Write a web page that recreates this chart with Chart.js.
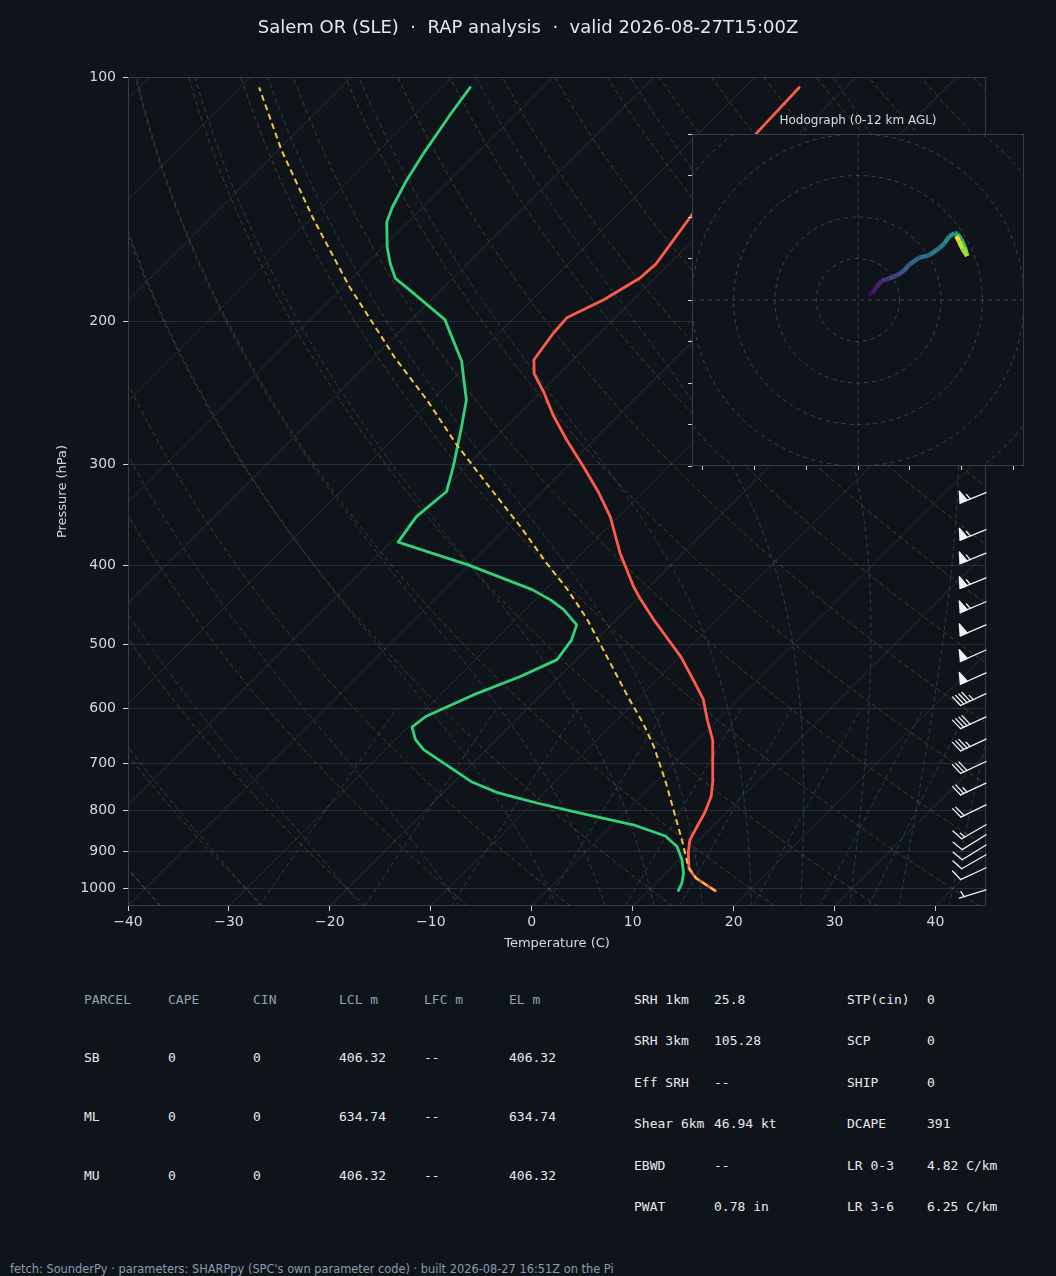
<!DOCTYPE html>
<html>
<head>
<meta charset="utf-8">
<script src="https://cdn.jsdelivr.net/npm/chart.js@4.4.1/dist/chart.umd.min.js"></script>
<style>
  html, body { margin: 0; padding: 0; background: #0f141a; }
  body { width: 1056px; height: 1276px; position: relative; overflow: hidden;
         font-family: "DejaVu Sans", sans-serif; color: #d6dbe2; }
  #title { position: absolute; top: 16px; left: 0; width: 1056px; text-align: center; z-index: 5;
           font-size: 18px; line-height: 22px; white-space: pre; color: #e4e8ee; }
  #skew { position: absolute; left: 0; top: 0; }
  #hodo { position: absolute; left: 680px; top: 100px; z-index: 2; }
  #hodoTitle { position: absolute; left: 680px; top: 112px; width: 356px; text-align: center; z-index: 3;
               font-size: 12px; line-height: 16px; color: #d6dbe2; }
  .cell { position: absolute; font-family: "DejaVu Sans Mono", monospace; font-size: 13px;
          line-height: 16px; white-space: pre; color: #e6e9ee; }
  .head { color: #8fa2b8; }
  #foot { position: absolute; left: 10px; top: 1262px; font-size: 11.4px; line-height: 14px;
          white-space: pre; color: #8b9bb0; }
</style>
</head>
<body>
<canvas id="skew" width="1056" height="960"></canvas>
<div id="title">Salem OR (SLE)  ·  RAP analysis  ·  valid 2026-08-27T15:00Z</div>
<canvas id="hodo" width="356" height="380"></canvas>
<div id="hodoTitle">Hodograph (0-12 km AGL)</div>
<div id="table"></div>
<div id="foot">fetch: SounderPy · parameters: SHARPpy (SPC's own parameter code) · built 2026-08-27 16:51Z on the Pi</div>

<script>
// ---- sounding ----
const tempP = [1006, 970, 945, 902, 870, 838, 806, 769, 733, 681, 656, 620, 584, 556, 518, 484, 466, 440, 424,
  386, 348, 324, 302, 280, 261, 245, 232, 223, 207, 198, 188, 177, 170, 148, 117, 103];
const tempC = [16.7, 13.5, 11.9, 10.2, 9.1, 8.5, 7.9, 6.9, 5.4, 2.8, 1.5, -1.0, -3.5, -6.1, -9.9, -14.0, -16.3, -19.6, -21.6,
  -26.2, -30.8, -34.5, -38.4, -42.7, -46.5, -49.6, -52.5, -53.9, -54.6, -54.8, -52.9, -51.5, -51.3, -52.6, -54.3, -54.6];

const dewP = [1005, 984, 957, 921, 887, 861, 834, 807, 784, 762, 738, 674, 655, 632, 614, 577, 548, 522, 494, 473,
  453, 441, 428, 399, 374, 348, 324, 302, 285, 270, 250, 234, 224, 209, 199, 183, 177, 170, 162, 151, 145, 134, 124, 111, 103];
const dewC = [13.0, 12.6, 11.8, 10.3, 8.5, 6.3, 2.0, -4.4, -9.7, -14.5, -18.3, -26.2, -28.0, -29.6, -29.3, -26.7, -23.9, -21.9, -22.4, -23.4,
  -26.2, -28.4, -31.3, -40.1, -49.3, -50.0, -49.5, -51.3, -52.9, -54.4, -56.6, -59.2, -60.9, -64.3, -66.7, -73.1, -75.7, -77.6, -79.6, -82.1, -83.0, -84.3, -85.3, -86.5, -87.2];

const parcelP = [1006, 970, 939, 870, 799, 734, 668, 625, 580, 537, 489, 464, 428, 397, 358, 320, 283, 250, 222, 181, 149, 123, 103];
const parcelC = [16.7, 13.5, 11.6, 8.3, 4.5, 0.7, -3.7, -7.1, -11.2, -15.3, -20.3, -23.1, -27.8, -32.5, -38.7, -45.7, -53.3, -60.5, -67.8, -79.5, -89.9, -99.7, -108.1];

// wind barbs (kt, direction from)
const barbP = [325, 361, 386, 414, 443, 473, 508, 542, 575, 614, 654, 697, 741, 788, 834, 858, 883, 908, 942, 1003];
const barbSpd = [55, 55, 55, 55, 55, 50, 50, 50, 45, 40, 35, 30, 25, 20, 15, 10, 10, 10, 10, 5];
const barbDir = [248, 248, 248, 248, 247, 247, 246, 246, 245, 245, 245, 245, 245, 244, 240, 238, 238, 240, 245, 253];

// hodograph (m/s) and height (km AGL)
const hodoU = [2.4, 3.5, 4.4, 5.7, 7.6, 9.5, 11.0, 12.4, 14.8, 17.2, 19.6, 20.8, 22.0, 23.3, 24.0, 24.9, 25.7, 26.3, 25.2, 24.3, 23.7];
const hodoV = [1.2, 1.7, 3.1, 4.6, 5.2, 6.0, 7.0, 8.6, 10.2, 10.8, 12.5, 13.6, 15.3, 16.1, 15.9, 14.5, 12.8, 10.6, 12.3, 14.2, 15.4];
const hodoZ = [0, 0.5, 1, 1.5, 2, 2.5, 3, 3.5, 4, 4.5, 5, 5.5, 6, 6.5, 7, 8, 9, 10, 10.7, 11.4, 12];

// axes and background line sets
const xTicks = [-40, -30, -20, -10, 0, 10, 20, 30, 40];
const yTicks = [100, 200, 300, 400, 500, 600, 700, 800, 900, 1000];
const isoT = [-130, -120, -110, -100, -90, -80, -70, -60, -50, -40, -30, -20, -10, 0, 10, 20, 30, 40];
const dryT0 = [-40, -30, -20, -10, 0, 10, 20, 30, 40, 50, 60, 70, 80, 90, 100, 110, 120, 130, 140, 150, 160, 170, 180, 190, 200];
const moistT0 = [-40, -30, -20, -10, 0, 5, 10, 15, 20, 25, 30, 35, 40, 45, 50, 55, 60];
const mixW = [0.4, 1, 2, 4, 7, 10, 16, 24, 32];
const mixP = [1050, 1000, 950, 900, 850, 800, 750, 700, 650, 600];
const hodoXTicks = [-37.5, -25, -12.5, 0, 12.5, 25, 37.5];
const hodoYTicks = [-40, -30, -20, -10, 0, 10, 20, 30, 40];
const hodoRings = [10, 20, 30, 40, 50];

// table
const parcelHead = ["PARCEL", "CAPE", "CIN", "LCL m", "LFC m", "EL m"];
const parcelRows = [
  ["SB", "0", "0", "406.32", "--", "406.32"],
  ["ML", "0", "0", "634.74", "--", "634.74"],
  ["MU", "0", "0", "406.32", "--", "406.32"]
];
const paramsA = [["SRH 1km", "25.8"], ["SRH 3km", "105.28"], ["Eff SRH", "--"], ["Shear 6km", "46.94 kt"], ["EBWD", "--"], ["PWAT", "0.78 in"]];
const paramsB = [["STP(cin)", "0"], ["SCP", "0"], ["SHIP", "0"], ["DCAPE", "391"], ["LR 0-3", "4.82 C/km"], ["LR 3-6", "6.25 C/km"]];

// ---- skew geometry ----
const P_TOP = 100, P_BOT = 1050, T_MIN = -40, T_MAX = 45;
const PLOT_W = 858, PLOT_H = 829;
const SKEW = (PLOT_H / Math.log10(P_BOT / P_TOP)) / (PLOT_W / (T_MAX - T_MIN));
const skewX = (t, p) => t + SKEW * Math.log10(P_BOT / p);

const BG = "#0f141a";
const SPINE = "#343e4b";
const TXT = "#d3d9e0";

Chart.defaults.font.family = "DejaVu Sans";
Chart.defaults.color = TXT;

// pressure samples for curved reference lines
const curveP = [];
for (let p = 1050; p >= 100; p -= 10) curveP.push(p);

function moistLapse(T, p) {
  const tc = T - 273.15;
  const es = 6.112 * Math.exp(17.67 * tc / (tc + 243.5));
  const rs = 0.622 * es / (p - es);
  const num = 287.04 * T + 2.501e6 * rs;
  const den = 1005.7 + 2.501e6 * 2.501e6 * rs * 0.622 / (287.04 * T * T);
  return num / den / p;
}

function moistCurve(t0) {
  const out = {};
  let T = t0 + 273.15, p = 1000;
  curveP.filter(q => q <= 1000).forEach(q => {
    while (p > q) {
      const h = -Math.min(2, p - q);
      const k1 = moistLapse(T, p);
      const k2 = moistLapse(T + h * k1, p + h);
      T += h * (k1 + k2) / 2; p += h;
    }
    out[q] = T - 273.15;
  });
  T = t0 + 273.15; p = 1000;
  curveP.filter(q => q > 1000).reverse().forEach(q => {
    while (p < q) {
      const h = Math.min(2, q - p);
      const k1 = moistLapse(T, p);
      const k2 = moistLapse(T + h * k1, p + h);
      T += h * (k1 + k2) / 2; p += h;
    }
    out[q] = T - 273.15;
  });
  return curveP.map(q => ({ x: skewX(out[q], q), y: q }));
}

function mixCurve(w) {
  return mixP.map(p => {
    const e = (w / 1000) * p / (0.622 + w / 1000);
    const l = Math.log(e / 6.112);
    const td = 243.5 * l / (17.67 - l);
    return { x: skewX(td, p), y: p };
  });
}

function line(points, color, width, dash, order) {
  return {
    data: points, showLine: true, borderColor: color, borderWidth: width,
    borderDash: dash || [], pointRadius: 0, pointHoverRadius: 0, fill: false,
    tension: 0, order: order, clip: 0, borderJoinStyle: "round", borderCapStyle: "round"
  };
}

const datasets = [];
isoT.forEach(t => datasets.push(line([{ x: skewX(t, P_BOT), y: P_BOT }, { x: skewX(t, P_TOP), y: P_TOP }],
  "rgba(120,135,155,0.22)", 1, null, 20)));
dryT0.forEach(t0 => datasets.push(line(curveP.map(p => ({
  x: skewX((t0 + 273.15) * Math.pow(p / 1000, 0.2857) - 273.15, p), y: p })),
  "rgba(175,128,62,0.36)", 1, [4, 4], 19)));
moistT0.forEach(t0 => datasets.push(line(moistCurve(t0), "rgba(70,120,140,0.42)", 1, [4, 4], 18)));
mixW.forEach(w => datasets.push(line(mixCurve(w), "rgba(70,120,140,0.42)", 1, [4, 4], 17)));

datasets.push(line(tempP.map((p, i) => ({ x: skewX(tempC[i], p), y: p })), "#ff5b4b", 2.8, null, 3));
datasets.push(line(dewP.map((p, i) => ({ x: skewX(dewC[i], p), y: p })), "#33d17a", 2.8, null, 2));
const parcelSet = line(parcelP.map((p, i) => ({ x: skewX(parcelC[i], p), y: p })), "#f5c542", 2, [6, 4], 1);
parcelSet.borderCapStyle = "butt";
datasets.push(parcelSet);

// wind barb drawing
function drawBarb(ctx, x0, y0, spd, dir) {
  const L = 28, h = 11.2, w = 7.5, gap = 3.5;
  const a = dir * Math.PI / 180;
  const sx = Math.sin(a), sy = -Math.cos(a);
  const nx = -sy, ny = sx;
  const P = d => [x0 + sx * d, y0 + sy * d];
  ctx.beginPath();
  ctx.moveTo(x0, y0);
  ctx.lineTo(...P(L));
  ctx.stroke();
  let rest = Math.round(spd / 5) * 5;
  let d = L;
  while (rest >= 50) {
    const a1 = P(d), a2 = P(d - w / 2), a3 = P(d - w);
    ctx.beginPath();
    ctx.moveTo(a1[0], a1[1]);
    ctx.lineTo(a2[0] + nx * h, a2[1] + ny * h);
    ctx.lineTo(a3[0], a3[1]);
    ctx.closePath();
    ctx.fill();
    ctx.stroke();
    d -= w + gap;
    rest -= 50;
  }
  while (rest >= 10) {
    const b1 = P(d), b2 = P(d + w / 2);
    ctx.beginPath();
    ctx.moveTo(b1[0], b1[1]);
    ctx.lineTo(b2[0] + nx * h, b2[1] + ny * h);
    ctx.stroke();
    d -= gap;
    rest -= 10;
  }
  if (rest >= 5) {
    if (d === L) d -= 1.5 * gap;
    const c1 = P(d), c2 = P(d + w / 4);
    ctx.beginPath();
    ctx.moveTo(c1[0], c1[1]);
    ctx.lineTo(c2[0] + nx * h / 2, c2[1] + ny * h / 2);
    ctx.stroke();
  }
}

const skewPlugin = {
  id: "skewExtras",
  beforeDraw(chart) {
    const { ctx } = chart;
    ctx.save();
    ctx.fillStyle = BG;
    ctx.fillRect(0, 0, chart.width, chart.height);
    ctx.restore();
  },
  afterDatasetsDraw(chart) {
    const { ctx, chartArea, scales } = chart;
    ctx.save();
    ctx.strokeStyle = SPINE;
    ctx.lineWidth = 1;
    ctx.strokeRect(chartArea.left + 0.5, chartArea.top + 0.5, chartArea.right - chartArea.left - 1, chartArea.bottom - chartArea.top - 1);
    ctx.strokeStyle = "#eef1f5";
    ctx.fillStyle = "#eef1f5";
    ctx.lineWidth = 1.3;
    ctx.lineCap = "round";
    ctx.lineJoin = "round";
    barbP.forEach((p, i) => {
      drawBarb(ctx, chartArea.right, scales.y.getPixelForValue(p), barbSpd[i], barbDir[i]);
    });
    ctx.restore();
  }
};

new Chart(document.getElementById("skew"), {
  type: "scatter",
  data: { datasets: datasets },
  options: {
    responsive: false,
    animation: false,
    events: [],
    layout: { padding: { top: 77, right: 70, left: 0, bottom: 0 } },
    plugins: { legend: { display: false }, tooltip: { enabled: false } },
    scales: {
      x: {
        type: "linear", min: T_MIN, max: T_MAX,
        afterBuildTicks: s => { s.ticks = xTicks.map(v => ({ value: v })); },
        afterFit: s => { s.height = 54; },
        ticks: { font: { size: 14 }, color: TXT, padding: 3, maxRotation: 0,
                 callback: v => (v < 0 ? "\u2212" + Math.abs(v) : String(v)) },
        grid: { drawOnChartArea: false, tickLength: 5, tickColor: "#c9cfd6", color: SPINE },
        border: { display: false },
        title: { display: true, text: "Temperature (C)", font: { size: 13 }, color: TXT, padding: { top: 0, bottom: 9 } }
      },
      y: {
        type: "logarithmic", min: P_TOP, max: P_BOT, reverse: true,
        afterBuildTicks: s => { s.ticks = yTicks.map(v => ({ value: v })); },
        afterFit: s => { s.width = 128; },
        ticks: { font: { size: 14 }, color: TXT, padding: 7, callback: v => String(v) },
        grid: { color: "#252e39", lineWidth: 1, tickLength: 5, tickColor: "#c9cfd6" },
        border: { display: false },
        title: { display: true, text: "Pressure (hPa)", font: { size: 13 }, color: TXT, padding: { top: 55, bottom: 0 } }
      }
    }
  },
  plugins: [skewPlugin]
});

// ---- hodograph inset ----
const viridis = [[68, 1, 84], [72, 40, 120], [62, 73, 137], [49, 104, 142], [38, 130, 142],
  [31, 158, 137], [53, 183, 121], [109, 205, 89], [180, 222, 44], [253, 231, 37]];
function viridisColor(f) {
  f = Math.max(0, Math.min(1, f)) * (viridis.length - 1);
  const i = Math.min(viridis.length - 2, Math.floor(f)), t = f - i;
  const c = viridis[i].map((v, k) => Math.round(v + (viridis[i + 1][k] - v) * t));
  return "rgb(" + c.join(",") + ")";
}

const hodoPlugin = {
  id: "hodoExtras",
  beforeDraw(chart) {
    const { ctx, chartArea } = chart;
    ctx.save();
    ctx.fillStyle = BG;
    ctx.fillRect(chartArea.left, chartArea.top, chartArea.right - chartArea.left, chartArea.bottom - chartArea.top);
    ctx.restore();
  },
  beforeDatasetsDraw(chart) {
    const { ctx, chartArea, scales } = chart;
    const cx = scales.x.getPixelForValue(0), cy = scales.y.getPixelForValue(0);
    ctx.save();
    ctx.beginPath();
    ctx.rect(chartArea.left, chartArea.top, chartArea.right - chartArea.left, chartArea.bottom - chartArea.top);
    ctx.clip();
    ctx.strokeStyle = "rgba(110,125,145,0.45)";
    ctx.lineWidth = 1;
    ctx.setLineDash([4, 4]);
    hodoRings.forEach(r => {
      const rad = scales.x.getPixelForValue(r) - cx;
      ctx.beginPath();
      ctx.arc(cx, cy, rad, 0, Math.PI * 2);
      ctx.stroke();
    });
    ctx.beginPath();
    ctx.moveTo(chartArea.left, cy); ctx.lineTo(chartArea.right, cy);
    ctx.moveTo(cx, chartArea.top); ctx.lineTo(cx, chartArea.bottom);
    ctx.stroke();
    ctx.restore();
  },
  afterDraw(chart) {
    const { ctx, chartArea } = chart;
    ctx.save();
    ctx.strokeStyle = SPINE;
    ctx.lineWidth = 1;
    ctx.strokeRect(chartArea.left + 0.5, chartArea.top + 0.5, chartArea.right - chartArea.left - 1, chartArea.bottom - chartArea.top - 1);
    ctx.restore();
  }
};

new Chart(document.getElementById("hodo"), {
  type: "scatter",
  data: {
    datasets: [{
      data: hodoU.map((u, i) => ({ x: u, y: hodoV[i] })),
      showLine: true, borderWidth: 4.5, pointRadius: 0, pointHoverRadius: 0, clip: 0,
      borderCapStyle: "butt", borderJoinStyle: "round",
      segment: { borderColor: c => viridisColor((hodoZ[c.p0DataIndex] + hodoZ[c.p1DataIndex]) / 24) }
    }]
  },
  options: {
    responsive: false,
    animation: false,
    events: [],
    layout: { padding: { top: 34, right: 12, left: 0, bottom: 0 } },
    plugins: { legend: { display: false }, tooltip: { enabled: false } },
    scales: {
      x: {
        min: -40, max: 40,
        afterBuildTicks: s => { s.ticks = hodoXTicks.map(v => ({ value: v })); },
        afterFit: s => { s.height = 14; },
        ticks: { display: false },
        grid: { drawOnChartArea: false, tickLength: 4, tickColor: "#c9cfd6" },
        border: { display: false }
      },
      y: {
        min: -40, max: 40,
        afterBuildTicks: s => { s.ticks = hodoYTicks.map(v => ({ value: v })); },
        afterFit: s => { s.width = 12; },
        ticks: { display: false },
        grid: { drawOnChartArea: false, tickLength: 4, tickColor: "#c9cfd6" },
        border: { display: false }
      }
    }
  },
  plugins: [hodoPlugin]
});

// ---- parameter table ----
const table = document.getElementById("table");
function cell(text, x, yc, cls) {
  const d = document.createElement("div");
  d.className = "cell" + (cls ? " " + cls : "");
  d.textContent = text;
  d.style.left = x + "px";
  d.style.top = (yc - 8) + "px";
  table.appendChild(d);
}
const parcelX = [84, 168, 253, 339, 424, 509];
const parcelY = [1000, 1058, 1117, 1176];
parcelHead.forEach((t, j) => cell(t, parcelX[j], parcelY[0], "head"));
parcelRows.forEach((row, i) => row.forEach((t, j) => cell(t, parcelX[j], parcelY[i + 1])));
const paramY = [1000, 1041, 1083, 1124, 1166, 1207];
paramsA.forEach((r, i) => { cell(r[0], 634, paramY[i]); cell(r[1], 714, paramY[i]); });
paramsB.forEach((r, i) => { cell(r[0], 847, paramY[i]); cell(r[1], 927, paramY[i]); });
</script>
</body>
</html>
